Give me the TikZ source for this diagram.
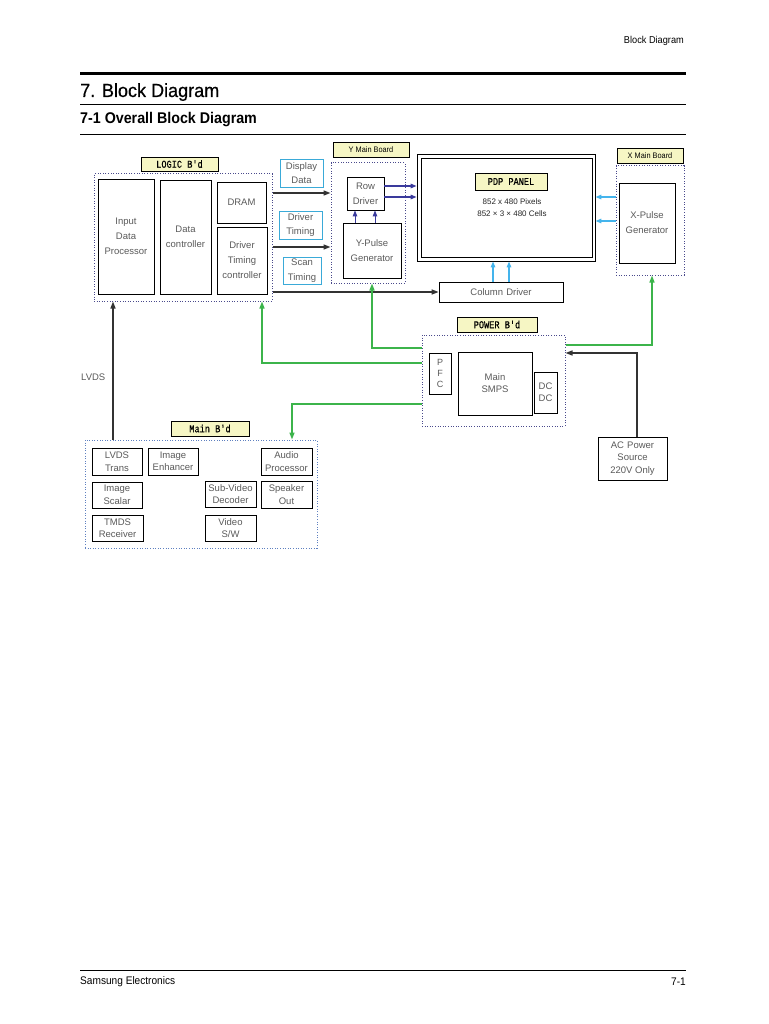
\documentclass[tikz,border=0pt]{standalone}
\usepackage{fontspec}
\setmainfont{Liberation Sans}
\newfontfamily\condfont[FakeStretch=0.92]{Liberation Sans}
\newfontfamily\titlefont[FakeStretch=0.95,FakeBold=0.5]{Liberation Sans}
\newfontfamily\labfont[FakeStretch=0.82,FakeBold=0.5]{Liberation Mono}
\usetikzlibrary{arrows.meta}
\definecolor{txt}{HTML}{5A5A5A}
\definecolor{labyellow}{HTML}{F6F6C4}
\definecolor{dotblue}{HTML}{4A4A8C}
\definecolor{dotlight}{HTML}{5E80C0}
\definecolor{cyanbox}{HTML}{3AAAD8}
\definecolor{cyanarr}{HTML}{44B4EC}
\definecolor{bluearr}{HTML}{3A3A9C}
\definecolor{greenarr}{HTML}{3CB44B}
\definecolor{darkarr}{HTML}{333333}
\begin{document}
\begin{tikzpicture}[x=1pt,y=-1pt,
  bx/.style={draw=black, line width=0.8pt, text=txt, align=center, inner sep=0pt,
    font=\fontsize{9.5}{15}\selectfont},
  sbx/.style={bx, font=\fontsize{9.5}{12.5}\selectfont},
  cybx/.style={bx, draw=cyanbox, font=\fontsize{9.5}{14.5}\selectfont},
  lab/.style={draw=black, fill=labyellow, line width=0.8pt, inner sep=0pt, text=black,
    font=\labfont\fontsize{10.5}{10.5}\selectfont},
  slab/.style={lab, font=\condfont\fontsize{8}{8}\selectfont},
  dotbox/.style={draw=dotblue, line width=1pt, dash pattern=on 1pt off 1.6pt, inner sep=0pt},
  arr/.style={-{Triangle[length=7pt,width=5pt]}, line width=1.4pt},
  blk/.style={arr, draw=darkarr},
  blu/.style={arr, draw=bluearr, -{Triangle[length=6pt,width=4.5pt]}},
  cya/.style={arr, draw=cyanarr, -{Triangle[length=6pt,width=4.5pt]}},
  grn/.style={arr, draw=greenarr},
  rule/.style={draw=black}
]
\useasboundingbox (0,0) rectangle (768,1024);
\fill[white] (0,0) rectangle (768,1024);

% ---------- page header / footer ----------
\node[anchor=east, inner sep=0pt, font=\condfont\fontsize{10}{10}\selectfont] (hdr) at (684,41) {Block Diagram};
\coordinate (tl1) at (80,73.5); \coordinate (tr1) at (686,73.5);
\draw[rule, line width=3.5pt] (tl1) -- (tr1);
\node[anchor=base west, inner sep=0pt, font=\titlefont\fontsize{19}{19}\selectfont] (t1) at (80,97) {7. Block Diagram};
\coordinate (tl2) at (80,104.5); \coordinate (tr2) at (686,104.5);
\draw[rule, line width=1pt] (tl2) -- (tr2);
\node[anchor=west, inner sep=0pt, font=\condfont\bfseries\fontsize{15.5}{15.5}\selectfont] (t2) at (80,120) {7-1 Overall Block Diagram};
\coordinate (tl3) at (80,135); \coordinate (tr3) at (686,135);
\draw[rule, line width=1pt] (tl3) -- (tr3);
\coordinate (fl) at (80,970); \coordinate (fr) at (686,970);
\draw[rule, line width=0.8pt] (fl) -- (fr);
\node[anchor=west, inner sep=0pt, font=\condfont\fontsize{11}{11}\selectfont] (ftl) at (80,982) {Samsung Electronics};
\node[anchor=east, inner sep=0pt, font=\condfont\fontsize{11}{11}\selectfont] (ftr) at (686,982) {7-1};

% ---------- LOGIC board ----------
\node[lab, minimum width=77pt, minimum height=14pt] (loglab) at (179.5,164) {LOGIC B'd};
\node[dotbox, minimum width=178pt, minimum height=127pt] (logic) at (183,237.5) {};
\node[bx, minimum width=56pt, minimum height=115pt] (idp) at (126,236.5) {Input\\Data\\Processor};
\node[bx, minimum width=51pt, minimum height=114pt] (dc) at (185.5,237) {Data\\controller};
\node[bx, minimum width=49pt, minimum height=41pt] (dram) at (241.5,202.5) {DRAM};
\node[bx, minimum width=50pt, minimum height=67pt] (dtc) at (242,260.5) {Driver\\Timing\\controller};

% ---------- signal labels ----------
\node[cybx, minimum width=43pt, minimum height=28pt] (dd) at (301.5,173) {Display\\Data};
\node[cybx, minimum width=43pt, minimum height=28pt] (dt) at (300.5,225) {Driver\\Timing};
\node[cybx, minimum width=38pt, minimum height=27pt] (st) at (302,270.5) {Scan\\Timing};

% ---------- Y main board ----------
\node[slab, minimum width=76pt, minimum height=15pt] (ylab) at (371,149.5) {Y Main Board};
\node[dotbox, minimum width=74pt, minimum height=120pt] (ybox) at (368,223) {};
\node[bx, minimum width=37pt, minimum height=33pt] (row) at (365.5,193.5) {Row\\Driver};
\node[bx, minimum width=58pt, minimum height=55pt] (ypg) at (372,250.5) {Y-Pulse\\Generator};

% ---------- PDP panel ----------
\node[draw=black, line width=0.9pt, minimum width=178pt, minimum height=107pt, inner sep=0pt] (pdp) at (506,207.5) {};
\node[draw=black, line width=0.9pt, minimum width=171pt, minimum height=99pt, inner sep=0pt] (pdpin) at (506.5,207.5) {};
\node[lab, minimum width=72pt, minimum height=17pt] (pdplab) at (511,181.5) {PDP  PANEL};
\node[inner sep=0pt, align=center, text=black!85, font=\fontsize{8}{12}\selectfont] (pdptxt) at (512,208) {852 x 480 Pixels\\852 × 3 × 480 Cells};
\node[bx, minimum width=124pt, minimum height=20pt] (col) at (501,292) {Column\,\,Driver};

% ---------- X main board ----------
\node[slab, minimum width=66pt, minimum height=15pt] (xlab) at (650,155.5) {X Main Board};
\node[dotbox, minimum width=68pt, minimum height=109pt] (xbox) at (650,220.5) {};
\node[bx, minimum width=56pt, minimum height=80pt] (xpg) at (647,223) {X-Pulse\\Generator};

% ---------- POWER board ----------
\node[lab, minimum width=80pt, minimum height=15pt] (pwlab) at (497,324.5) {POWER B'd};
\node[dotbox, minimum width=143pt, minimum height=91pt] (power) at (493.5,380.5) {};
\node[bx, minimum width=22pt, minimum height=41pt, font=\fontsize{9}{11}\selectfont] (pfc) at (440,373.5) {P\\F\\C};
\node[bx, minimum width=74pt, minimum height=63pt, font=\fontsize{9.5}{12}\selectfont] (smps) at (495,383.5) {Main\\SMPS};
\node[bx, minimum width=23pt, minimum height=41pt, font=\fontsize{9.5}{12}\selectfont] (dcdc) at (545.5,392.5) {DC\\DC};
\node[sbx, minimum width=69pt, minimum height=43pt] (ac) at (632.5,458.5) {AC\,\,Power\\Source\\220V Only};

% ---------- Main board ----------
\node[lab, minimum width=78pt, minimum height=15pt] (mnlab) at (210,428.5) {Main B'd};
\node[dotbox, draw=dotlight, minimum width=232pt, minimum height=108pt] (main) at (201,494) {};
\node[sbx, minimum width=50pt, minimum height=27pt] (lvt) at (117,461.5) {LVDS\\Trans};
\node[sbx, minimum width=50pt, minimum height=27pt] (ie) at (173,461.5) {Image\\Enhancer};
\node[sbx, minimum width=51pt, minimum height=27pt] (ap) at (286.5,461.5) {Audio\\Processor};
\node[sbx, minimum width=50pt, minimum height=26pt] (is) at (117,495) {Image\\Scalar};
\node[sbx, minimum width=51pt, minimum height=26pt] (svd) at (230.5,494) {Sub-Video\\Decoder};
\node[sbx, minimum width=51pt, minimum height=27pt] (so) at (286.5,494.5) {Speaker\\Out};
\node[sbx, minimum width=51pt, minimum height=26pt] (tmds) at (117.5,528) {TMDS\\Receiver};
\node[sbx, minimum width=51pt, minimum height=26pt] (vsw) at (230.5,528) {Video\\S/W};

\node[anchor=west, inner sep=0pt, text=txt, font=\fontsize{9.5}{12}\selectfont] (lvdslab) at (81,377) {LVDS};

% ---------- reference coordinates ----------
\coordinate (r1) at (0,193);
\coordinate (r2) at (0,247);
\coordinate (rd1) at (0,186);
\coordinate (rd2) at (0,197);
\coordinate (yp1) at (355,0);
\coordinate (yp2) at (375,0);
\coordinate (cd1) at (493,0);
\coordinate (cd2) at (509,0);
\coordinate (xp1) at (0,197);
\coordinate (xp2) at (0,221);
\coordinate (g1) at (0,345);
\coordinate (a1) at (0,353);
\coordinate (acx) at (637,0);
\coordinate (g2) at (0,348);
\coordinate (g3) at (0,363);
\coordinate (g4) at (0,404);
\coordinate (gx) at (652,0);
\coordinate (gy) at (372,0);
\coordinate (gl) at (262,0);
\coordinate (gm) at (292,0);
\coordinate (lv) at (113,0);

% ---------- connectors ----------
\draw[blk] (logic.east |- r1) -- (ybox.west |- r1);
\draw[blk] (logic.east |- r2) -- (ybox.west |- r2);
\draw[blk] (logic.east |- col.west) -- (col.west);
\draw[blu] (row.east |- rd1) -- (pdp.west |- rd1);
\draw[blu] (row.east |- rd2) -- (pdp.west |- rd2);
\draw[blu, line width=1pt] (ypg.north -| yp1) -- (row.south -| yp1);
\draw[blu, line width=1pt] (ypg.north -| yp2) -- (row.south -| yp2);
\draw[cya] (col.north -| cd1) -- (pdp.south -| cd1);
\draw[cya] (col.north -| cd2) -- (pdp.south -| cd2);
\draw[cya] (xbox.west |- xp1) -- (pdp.east |- xp1);
\draw[cya] (xbox.west |- xp2) -- (pdp.east |- xp2);
\draw[grn] (power.east |- g1) -| (xbox.south -| gx);
\draw[blk] (ac.north -| acx) |- (power.east |- a1);
\draw[grn] (power.west |- g2) -| (ybox.south -| gy);
\draw[grn] (power.west |- g3) -| (logic.south -| gl);
\draw[grn] (power.west |- g4) -| (main.north -| gm);
\draw[blk] (main.north -| lv) -- (logic.south -| lv);
\end{tikzpicture}
\end{document}
